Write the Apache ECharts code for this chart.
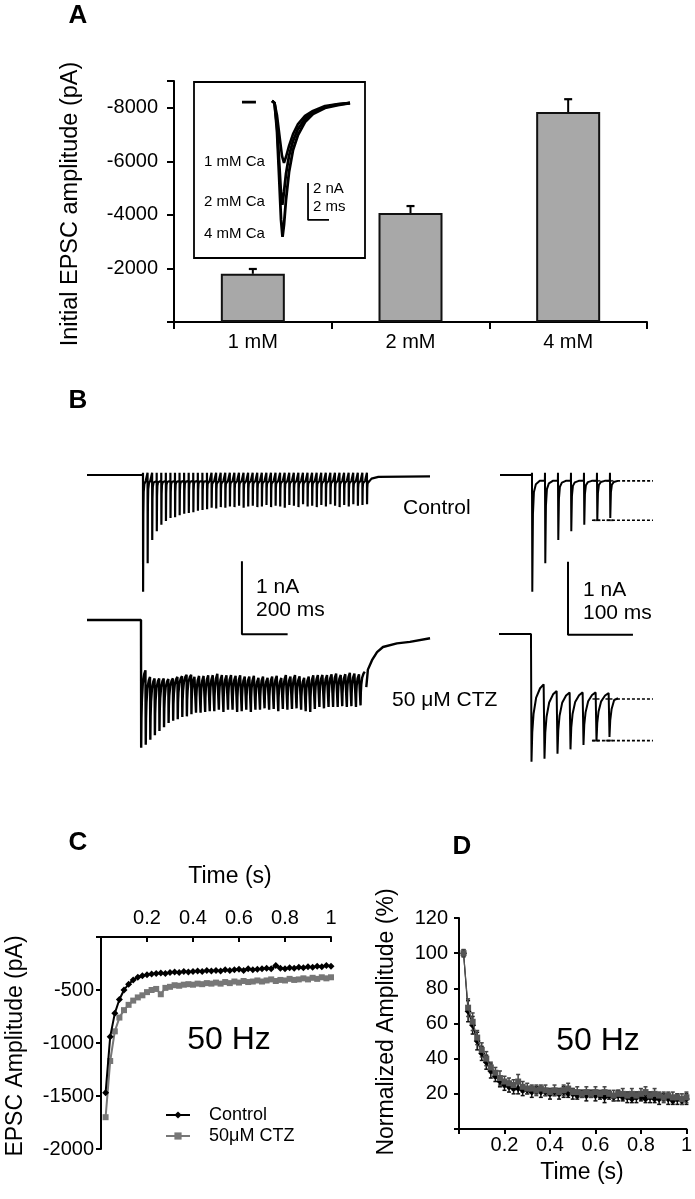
<!DOCTYPE html>
<html>
<head>
<meta charset="utf-8">
<script src="https://cdn.jsdelivr.net/npm/echarts/dist/echarts.min.js"></script>
<style>html,body{margin:0;padding:0;background:#fff}#c{width:695px;height:1199px}</style>
</head>
<body>
<div id="c"></div>
<script>
const FONT = '"Liberation Sans", Arial, Helvetica, sans-serif';

// ---------- Panel A : initial EPSC amplitude ----------
const concA = ['1 mM', '2 mM', '4 mM'];
const ampA = [-1800, -4070, -7840];
const semA = [180, 260, 480];

// Inset traces (time ms, current nA)
const inset1mM = [[7.43,0.11],[7.67,0],[7.90,-0.65],[8.19,-2.0],[8.38,-2.86],[8.57,-3.24],[8.76,-2.92],[9.05,-2.32],[9.43,-1.68],[9.90,-1.14],[10.57,-0.70],[11.33,-0.43],[12.48,-0.16],[13.71,-0.05],[14.86,0]];
const inset2mM = [[7.43,0.11],[7.67,0],[7.90,-1.19],[8.10,-3.08],[8.29,-4.97],[8.41,-5.51],[8.57,-4.81],[8.76,-3.84],[9.05,-2.86],[9.43,-2.05],[9.90,-1.41],[10.57,-0.86],[11.33,-0.49],[12.48,-0.22],[13.71,-0.08],[14.86,0]];
const inset4mM = [[7.43,0.11],[7.67,0],[7.90,-1.46],[8.10,-3.89],[8.29,-6.32],[8.43,-7.24],[8.57,-6.59],[8.76,-5.24],[9.05,-3.73],[9.43,-2.54],[9.90,-1.73],[10.57,-1.03],[11.33,-0.59],[12.48,-0.27],[13.71,-0.11],[14.86,0]];
const insetStim = [[4.57,0.05],[5.9,0.05]];
const insetScale = [[10.86,-4.32],[10.86,-6.32],[12.86,-6.32]]; // 2 nA, 2 ms

// ---------- Panel B : 50 Hz trains ----------
const pulseMs = 20;
const ctrlPeakNA = [1.60,1.21,0.89,0.77,0.68,0.63,0.59,0.58,0.55,0.53,
  0.52,0.51,0.49,0.48,0.47,0.45,0.46,0.44,0.45,0.43,
  0.44,0.42,0.45,0.43,0.42,0.44,0.43,0.41,0.44,0.42,
  0.43,0.45,0.41,0.42,0.44,0.40,0.43,0.42,0.44,0.41,
  0.43,0.40,0.42,0.44,0.41,0.43,0.40,0.42,0.41,0.40];
const ctrlRestNA = 0.08;
const ctrlArtNA = 0.03;
const ctrlShape = [[0.5,1],[1.5,0.3],[3,0.1],[6,0.03],[12,0]];
const ctrlTailNA = [[1000,-0.05],[1030,-0.025],[1256,-0.02]];
const ctzTroughNA = [1.75,1.71,1.64,1.58,1.52,1.47,1.41,1.38,1.36,1.33,
  1.32,1.29,1.27,1.27,1.26,1.25,1.25,1.23,1.26,1.23,
  1.23,1.26,1.25,1.23,1.26,1.23,1.23,1.21,1.23,1.22,
  1.25,1.22,1.23,1.22,1.21,1.23,1.25,1.26,1.22,1.19,
  1.21,1.19,1.19,1.19,1.18,1.19,1.18,1.19,1.17,1.16];
const ctzTopNA = [0.69,0.78,0.80,0.80,0.80,0.81,0.80,0.78,0.77,0.75,
  0.75,0.75,0.74,0.74,0.73,0.73,0.71,0.73,0.73,0.73,
  0.74,0.73,0.75,0.75,0.74,0.77,0.75,0.77,0.75,0.74,
  0.77,0.73,0.75,0.73,0.75,0.77,0.75,0.73,0.73,0.73,
  0.73,0.72,0.71,0.73,0.72,0.70,0.71,0.72,0.71];
const ctzShape = [[0.8,1],[2,0.62],[4,0.38],[8,0.17],[14,0.05],[19.5,0]];
const ctzTailNA = [[986,-0.92],[993,-0.68],[1011,-0.55],[1033,-0.44],[1059,-0.37],[1120,-0.32],[1177,-0.30],[1265,-0.25]];
const zoomPulses = 7;
const ctrlZoomEnd = [[131,-0.08]];
const ctzZoomEnd = [[134,-0.88]];
const ctrlSteadyNA = [-0.08, -0.62];
const ctzSteadyNA = [-0.89, -1.46];
const ctrlDashMs = [[131,186.2],[92.3,186.2]];
const ctzDashMs = [[132.3,187.7],[93.8,187.7]];
const markedPulses = [5, 6];
const scaleLeft = [[433,-1.18],[433,-2.18],[633,-2.18]];   // 1 nA, 200 ms
const scaleRight = [[55.4,-1.19],[55.4,-2.19],[155.4,-2.19]]; // 1 nA, 100 ms

// ---------- Panels C and D ----------
const timeS = [0.02,0.04,0.06,0.08,0.10,0.12,0.14,0.16,0.18,0.20,0.22,0.24,0.26,0.28,0.30,0.32,0.34,0.36,0.38,0.40,0.42,0.44,0.46,0.48,0.50,0.52,0.54,0.56,0.58,0.60,0.62,0.64,0.66,0.68,0.70,0.72,0.74,0.76,0.78,0.80,0.82,0.84,0.86,0.88,0.90,0.92,0.94,0.96,0.98,1.00];
const ctrlC = [-1470,-940,-720,-590,-500,-445,-405,-380,-365,-355,
  -350,-345,-340,-345,-335,-330,-335,-325,-330,-325,
  -320,-325,-315,-320,-315,-320,-310,-315,-310,-305,
  -315,-300,-310,-305,-300,-295,-300,-270,-295,-300,
  -290,-295,-285,-290,-280,-285,-275,-280,-270,-275];
const ctzC = [-1700,-1170,-890,-760,-690,-640,-600,-570,-550,-520,
  -500,-490,-540,-480,-470,-455,-460,-450,-445,-450,
  -440,-445,-435,-440,-430,-440,-425,-435,-420,-430,
  -415,-425,-420,-410,-420,-410,-400,-415,-405,-410,
  -395,-405,-400,-390,-400,-385,-395,-380,-390,-380];
const ctrlD = [100,67,59,50,43,38,33,30,27,25,
  24,23,23,22,22,21,22,21,21,20,
  21,20,21,20,20,19,20,19,20,19,
  19,18,19,18,19,18,18,17,18,18,
  17,18,17,17,18,17,16,17,16,17];
const ctzD = [100,69,61,52,45,40,35,32,29,27,
  26,25,27,24,23,23,22,23,22,21,
  22,21,22,23,21,21,20,21,20,21,
  20,21,20,19,20,20,19,20,19,20,
  21,19,20,19,18,19,18,18,17,18];
const errCtrlD = [2,6,5,5,4,4,4,3,3,3, 3,3,3,3,2,3,2,3,2,3, 2,3,3,2,3,2,2,3,2,3, 2,3,2,2,3,2,3,2,3,2, 2,3,2,3,2,3,2,3,2,3];
const errCtzD = [2,5,5,4,4,4,3,3,4,3, 3,3,4,3,3,2,3,2,3,2, 3,2,3,3,2,3,2,3,2,3, 2,3,2,3,2,3,2,3,2,3, 3,2,3,2,3,2,3,2,3,3];

// ---------- trace builders ----------
function buildCtrl(nP, t0, endPts) {
  const pts = [[t0, 0], [-0.3, 0]];
  for (let i = 0; i < nP; i++) {
    const t = i * pulseMs;
    const rest = i === 0 ? 0 : -ctrlRestNA;
    pts.push([t - 0.2, rest], [t, ctrlArtNA]);
    ctrlShape.forEach(([dt, f]) => pts.push([t + dt, -ctrlRestNA - (ctrlPeakNA[i] - ctrlRestNA) * f]));
  }
  return pts.concat(endPts);
}
function buildCtz(nP, t0, lastMaxDt, endPts) {
  const pts = [[t0, 0], [0, 0]];
  for (let i = 0; i < nP; i++) {
    const t = i * pulseMs, trough = -ctzTroughNA[i];
    const last = i === nP - 1;
    const top = -ctzTopNA[i];
    ctzShape.forEach(([dt, f]) => {
      if (!last || dt <= lastMaxDt) pts.push([t + dt, top + (trough - top) * f]);
    });
  }
  return pts.concat(endPts);
}
const pairs = (xs, ys) => xs.map((x, i) => [x, ys[i]]);
const capsFor = (levels) => {
  const out = [];
  levels.forEach(l => markedPulses.forEach(p => out.push([p * pulseMs, l])));
  return out;
};

const chart = echarts.init(document.getElementById('c'), null, {renderer: 'canvas', width: 695, height: 1199});

const black = '#000';
const axLine = {show: true, onZero: false, lineStyle: {color: black, width: 2}};
const tick = (len, inside) => ({show: true, length: len, inside: !!inside, lineStyle: {color: black, width: 2}});
const lbl = (size, margin, fmt) => ({show: true, color: black, fontSize: size, fontFamily: FONT, margin, formatter: fmt});
const hidden = (g, min, max) => ({gridIndex: g, type: 'value', min, max, show: false});
const fmt01 = v => (v === 0 ? '' : String(Number(v.toFixed(1))));

const lineS = (name, xi, data, width, color, extra) => Object.assign({
  name, type: 'line', xAxisIndex: xi, yAxisIndex: xi, data, showSymbol: false, symbol: 'none',
  lineStyle: {color: color || black, width: width}, silent: true, animation: false, clip: false, z: 3
}, extra || {});

function errRender(capHalf, width, color) {
  return function (params, api) {
    const x = api.value(0), v = api.value(1), e = api.value(2);
    const a = api.coord([x, v - e]), b = api.coord([x, v + e]);
    return {type: 'group', children: [
      {type: 'line', shape: {x1: a[0], y1: a[1], x2: b[0], y2: b[1]}, style: {stroke: color, lineWidth: width}},
      {type: 'line', shape: {x1: a[0] - capHalf, y1: a[1], x2: a[0] + capHalf, y2: a[1]}, style: {stroke: color, lineWidth: width}},
      {type: 'line', shape: {x1: b[0] - capHalf, y1: b[1], x2: b[0] + capHalf, y2: b[1]}, style: {stroke: color, lineWidth: width}}
    ]};
  };
}

function T(x, y, text, size, o) {
  o = o || {};
  return {type: 'text', x, y, rotation: o.rot || 0, silent: true, z: 10,
    style: {text, fill: black, fontSize: size, fontFamily: FONT, fontWeight: o.bold ? 'bold' : 'normal',
      align: o.align || 'left', verticalAlign: 'middle'}};
}

const option = {
  animation: false,
  backgroundColor: '#fff',
  textStyle: {fontFamily: FONT, color: black},
  legend: {
    data: ['Control', '50μM CTZ'], orient: 'vertical', left: 160, top: 1101,
    itemWidth: 24, itemHeight: 9, itemGap: 3, selectedMode: false,
    textStyle: {fontSize: 18, fontFamily: FONT, color: black, padding: [0, 0, 0, 14]}
  },
  grid: [
    {left: 174, top: 81, width: 473, height: 241},
    {left: 194, top: 82, width: 171, height: 176, show: true, borderColor: black, borderWidth: 1.8, backgroundColor: 'rgba(0,0,0,0)'},
    {left: 87, top: 460.4, width: 343, height: 182.5},
    {left: 87, top: 605.4, width: 343, height: 146},
    {left: 500, top: 460.4, width: 155, height: 182.5},
    {left: 499, top: 619.4, width: 155, height: 146},
    {left: 101, top: 937, width: 230, height: 212},
    {left: 459, top: 918, width: 229, height: 211}
  ],
  xAxis: [
    {gridIndex: 0, type: 'category', data: concA, axisLine: axLine, axisTick: tick(7), axisLabel: lbl(20, 10), splitLine: {show: false}},
    hidden(1, 0, 16.286),
    hidden(2, -245, 1256),
    hidden(3, -236.3, 1264.8),
    hidden(4, -49.2, 189.3),
    hidden(5, -49.2, 189.3),
    {gridIndex: 6, type: 'value', position: 'top', min: 0, max: 1, interval: 0.2, axisLine: axLine, axisTick: tick(5, true),
      axisLabel: lbl(20, 9, fmt01), splitLine: {show: false}},
    {gridIndex: 7, type: 'value', min: 0, max: 1, interval: 0.2, axisLine: axLine, axisTick: tick(5),
      axisLabel: lbl(20, 6, fmt01), splitLine: {show: false}}
  ],
  yAxis: [
    {gridIndex: 0, type: 'value', inverse: true, min: -9000, max: 0, splitNumber: 5, axisLine: axLine, axisTick: tick(7),
      axisLabel: lbl(20, 16, v => (v === 0 || v === -9000 ? '' : String(v))), splitLine: {show: false}},
    hidden(1, -8.378, 1.135),
    hidden(2, -2.3, 0.2),
    hidden(3, -1.8, 0.2),
    hidden(4, -2.3, 0.2),
    hidden(5, -1.8, 0.2),
    {gridIndex: 6, type: 'value', min: -2000, max: 0, interval: 500, axisLine: axLine, axisTick: tick(5),
      axisLabel: lbl(20, 7, v => (v === 0 ? '' : String(v))), splitLine: {show: false}},
    {gridIndex: 7, type: 'value', min: 0, max: 120, interval: 20, axisLine: axLine, axisTick: tick(5),
      axisLabel: lbl(20, 11, v => (v === 0 ? '' : String(v))), splitLine: {show: false}}
  ],
  series: [
    // Panel A bars + error bars
    {type: 'bar', xAxisIndex: 0, yAxisIndex: 0, data: ampA, barWidth: 64, silent: true,
      itemStyle: {color: '#a8a8a8', borderColor: '#111', borderWidth: 2}, z: 2},
    {type: 'custom', xAxisIndex: 0, yAxisIndex: 0, silent: true, z: 3,
      data: ampA.map((v, i) => [i, v, semA[i]]), encode: {x: 0, y: 1},
      renderItem: function (params, api) {
        const i = api.value(0), v = api.value(1), e = api.value(2);
        const p0 = api.coord([i, v]), p1 = api.coord([i, v - e]);
        return {type: 'group', children: [
          {type: 'line', shape: {x1: p0[0], y1: p0[1], x2: p1[0], y2: p1[1]}, style: {stroke: black, lineWidth: 2}},
          {type: 'line', shape: {x1: p1[0] - 4, y1: p1[1], x2: p1[0] + 4, y2: p1[1]}, style: {stroke: black, lineWidth: 2.2}}
        ]};
      }},
    // inset
    lineS('i4', 1, inset4mM, 2.8),
    lineS('i2', 1, inset2mM, 2.8),
    lineS('i1', 1, inset1mM, 2.6),
    lineS('stim', 1, insetStim, 2.8),
    lineS('iscale', 1, insetScale, 1.8),
    // Panel B left
    lineS('ctrlTrain', 2, buildCtrl(50, -245, ctrlTailNA), 2.2),
    lineS('scaleL', 2, scaleLeft, 2),
    lineS('ctzTrain', 3, buildCtz(50, -236.3, 0.8, ctzTailNA), 2.4),
    // Panel B right (first pulses)
    lineS('ctrlZoom', 4, buildCtrl(zoomPulses, -49.2, ctrlZoomEnd), 2),
    lineS('ctrlDashTop', 4, ctrlDashMs[0].map(t => [t, ctrlSteadyNA[0]]), 1.6, black, {lineStyle: {color: black, width: 1.6, type: [3, 2]}}),
    lineS('ctrlDashBot', 4, ctrlDashMs[1].map(t => [t, ctrlSteadyNA[1]]), 1.6, black, {lineStyle: {color: black, width: 1.6, type: [3, 2]}}),
    {type: 'scatter', xAxisIndex: 4, yAxisIndex: 4, data: capsFor(ctrlSteadyNA), symbol: 'rect', symbolSize: [7, 1.8],
      itemStyle: {color: black}, silent: true, z: 4},
    lineS('scaleR', 4, scaleRight, 2),
    lineS('ctzZoom', 5, buildCtz(zoomPulses, -49.2, 10, ctzZoomEnd), 2),
    lineS('ctzDashTop', 5, ctzDashMs[0].map(t => [t, ctzSteadyNA[0]]), 1.6, black, {lineStyle: {color: black, width: 1.6, type: [3, 2]}}),
    lineS('ctzDashBot', 5, ctzDashMs[1].map(t => [t, ctzSteadyNA[1]]), 1.6, black, {lineStyle: {color: black, width: 1.6, type: [3, 2]}}),
    {type: 'scatter', xAxisIndex: 5, yAxisIndex: 5, data: capsFor(ctzSteadyNA), symbol: 'rect', symbolSize: [7, 1.8],
      itemStyle: {color: black}, silent: true, z: 4},
    // Panel C
    {name: '50μM CTZ', type: 'line', xAxisIndex: 6, yAxisIndex: 6, data: pairs(timeS, ctzC), symbol: 'rect', symbolSize: 6,
      itemStyle: {color: '#777'}, lineStyle: {color: '#777', width: 2}, silent: true, z: 3},
    {name: 'Control', type: 'line', xAxisIndex: 6, yAxisIndex: 6, data: pairs(timeS, ctrlC), symbol: 'diamond', symbolSize: 7,
      itemStyle: {color: black}, lineStyle: {color: black, width: 2}, silent: true, z: 4},
    // Panel D
    {type: 'custom', xAxisIndex: 7, yAxisIndex: 7, silent: true, z: 2, encode: {x: 0, y: 1},
      data: timeS.map((t, i) => [t, ctrlD[i], errCtrlD[i]]), renderItem: errRender(2, 1.5, '#111')},
    {name: 'Control', type: 'line', xAxisIndex: 7, yAxisIndex: 7, data: pairs(timeS, ctrlD), symbol: 'diamond', symbolSize: 7,
      itemStyle: {color: black}, lineStyle: {color: black, width: 1.2}, silent: true, z: 3},
    {type: 'custom', xAxisIndex: 7, yAxisIndex: 7, silent: true, z: 2, encode: {x: 0, y: 1},
      data: timeS.map((t, i) => [t, ctzD[i], errCtzD[i]]), renderItem: errRender(2, 1.5, '#444')},
    {name: '50μM CTZ', type: 'line', xAxisIndex: 7, yAxisIndex: 7, data: pairs(timeS, ctzD), symbol: 'rect', symbolSize: 6,
      itemStyle: {color: '#555'}, lineStyle: {color: '#555', width: 1.2}, silent: true, z: 4}
  ],
  graphic: {elements: [
    T(78, 16, 'A', 26, {bold: true, align: 'center'}),
    T(78, 401, 'B', 26, {bold: true, align: 'center'}),
    T(78, 843, 'C', 26, {bold: true, align: 'center'}),
    T(462, 847, 'D', 26, {bold: true, align: 'center'}),
    T(71, 204, 'Initial EPSC amplitude (pA)', 23.5, {rot: Math.PI / 2, align: 'center'}),
    T(204, 162, '1 mM Ca', 15),
    T(204, 202, '2 mM Ca', 15),
    T(204, 234, '4 mM Ca', 15),
    T(313, 189, '2 nA', 15),
    T(313, 207, '2 ms', 15),
    T(256, 587, '1 nA', 21),
    T(256, 610, '200 ms', 21),
    T(403, 508, 'Control', 21),
    T(392, 700, '50 μM CTZ', 21),
    T(583, 590, '1 nA', 21),
    T(583, 613, '100 ms', 21),
    T(230, 877, 'Time (s)', 23, {align: 'center'}),
    T(16, 1046, 'EPSC Amplitude (pA)', 23, {rot: Math.PI / 2, align: 'center'}),
    T(229, 1040, '50 Hz', 32, {align: 'center'}),
    T(387, 1022, 'Normalized Amplitude (%)', 23, {rot: Math.PI / 2, align: 'center'}),
    T(598, 1041, '50 Hz', 32, {align: 'center'}),
    T(582, 1173, 'Time (s)', 23, {align: 'center'})
  ]}
};
chart.setOption(option);
</script>
</body>
</html>
